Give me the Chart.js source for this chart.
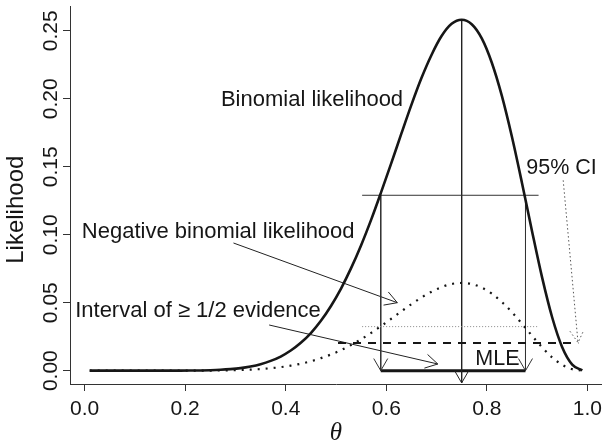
<!DOCTYPE html>
<html><head><meta charset="utf-8">
<script src="https://cdn.jsdelivr.net/npm/chart.js@4.4.0/dist/chart.umd.min.js"></script>
<style>html,body{margin:0;padding:0;background:#fff}canvas{display:block}</style>
</head><body>
<canvas id="c" width="602" height="444"></canvas>
<script>
// ---- data ----
const theta = [0.01,0.03,0.05,0.07,0.09,0.11,0.13,0.15,0.17,0.19,
  0.21,0.23,0.25,0.27,0.29,0.31,0.33,0.35,0.37,0.39,
  0.41,0.43,0.45,0.47,0.49,0.51,0.53,0.55,0.57,0.59,
  0.61,0.63,0.65,0.67,0.69,0.71,0.73,0.75,0.77,0.79,
  0.81,0.83,0.85,0.87,0.89,0.91,0.93,0.95,0.97,0.99];
const binomialLik = [0,0,0,0,0,0,0,0,0,0.00003,
  0.00009,0.00018,0.00035,0.00065,0.00115,0.0019,0.0031,0.0048,0.0072,0.0104,
  0.0148,0.0205,0.0277,0.0367,0.0476,0.0604,0.0754,0.0923,0.1111,0.1315,
  0.1526,0.1743,0.1955,0.2152,0.2322,0.2461,0.2551,0.2581,0.2548,0.2444,
  0.2265,0.2021,0.1720,0.1381,0.1026,0.0686,0.0393,0.0173,0.0045,0.0002];
const negBinomialLik = [0,0,0,0,0,0,0,0,0,0.00001,
  0.00002,0.00005,0.00009,0.00016,0.00029,0.0005,0.0008,0.0012,0.0018,0.0026,
  0.0037,0.0051,0.0069,0.0092,0.0119,0.0151,0.0189,0.0231,0.0278,0.0329,
  0.0382,0.0436,0.0489,0.0538,0.0581,0.0615,0.0638,0.0645,0.0637,0.0611,
  0.0566,0.0505,0.0430,0.0345,0.0257,0.0172,0.0098,0.0043,0.0011,0.00005];
const xTickValues = [0,0.2,0.4,0.6,0.8,1.0];
const xTickLabels = ['0.0','0.2','0.4','0.6','0.8','1.0'];
const yTickValues = [0,0.05,0.10,0.15,0.20,0.25];
const yTickLabels = ['0.00','0.05','0.10','0.15','0.20','0.25'];
const mle = 0.75;
const maxLik = 0.258;
const halfMaxLik = 0.129;
const evidenceInterval = [0.589, 0.877];
const halfLineRange = [0.552, 0.903];
const negHalfLik = 0.0324;
const ciLevel = 0.0203;
const ciLineRange = [0.504, 0.982];
// annotation arrows: [thetaStart, likStart, thetaEnd, likEnd]
const negBinArrow = [0.296, 0.0939, 0.622, 0.050];
const intervalArrow = [0.367, 0.0336, 0.7025, 0.0049];
const ciArrow = [0.952, 0.140, 0.9815, 0.0206];
const mleArrowEnd = -0.009;

// ---- styling / layout ----
const INK = '#161616';
const SANS = "'Liberation Sans', Arial, Helvetica, sans-serif";
const labels = [
  {text:'Binomial likelihood', x:0.271, y:0.1946, size:22},
  {text:'Negative binomial likelihood', x:-0.0056, y:0.0976, size:22},
  {text:'Interval of \u2265 1/2 evidence', x:-0.0189, y:0.0395, size:22},
  {text:'95% CI', x:0.8786, y:0.1446, size:21.5},
  {text:'MLE', x:0.7771, y:0.0042, size:21.5}
];

const pts = (xs, ys) => xs.map((v, i) => ({x: v, y: ys[i]}));
const seg = (a) => [{x:a[0], y:a[1]}, {x:a[2], y:a[3]}];
const line = (data, extra) => Object.assign({
  data, showLine:true, pointRadius:0, borderColor:INK, borderWidth:1,
  tension:0, fill:false, clip:false
}, extra || {});

const datasets = [
  line(pts(theta, binomialLik), {borderWidth:2.6, cubicInterpolationMode:'monotone'}),
  line(pts(theta, negBinomialLik), {borderWidth:2.2, borderDash:[2,6], cubicInterpolationMode:'monotone'}),
  line(seg([halfLineRange[0], halfMaxLik, halfLineRange[1], halfMaxLik]), {borderColor:'#333'}),
  line(seg([halfLineRange[0], negHalfLik, halfLineRange[1], negHalfLik]), {borderColor:'#888', borderDash:[1,2]}),
  line(seg([ciLineRange[0], ciLevel, ciLineRange[1], ciLevel]), {borderWidth:2, borderDash:[8,7]}),
  line(seg([evidenceInterval[0], halfMaxLik, evidenceInterval[0], 0]), {borderColor:'#333', arrowHead:true}),
  line(seg([evidenceInterval[1], halfMaxLik, evidenceInterval[1], 0]), {borderColor:'#333', arrowHead:true}),
  line(seg([mle, maxLik, mle, mleArrowEnd]), {borderColor:'#222', arrowHead:true}),
  line(seg([evidenceInterval[0], 0, evidenceInterval[1], 0]), {borderWidth:3}),
  line(seg(negBinArrow), {borderColor:'#222', arrowHead:true}),
  line(seg(intervalArrow), {borderColor:'#222', arrowHead:true}),
  line(seg(ciArrow), {borderColor:'#555', borderDash:[1.5,2.5], arrowHead:true})
];

const overlay = {
  id:'overlay',
  afterDatasetsDraw(chart) {
    const {ctx} = chart, xs = chart.scales.x, ys = chart.scales.y;
    chart.data.datasets.forEach(ds => {
      if (!ds.arrowHead) return;
      const p0 = ds.data[0], p1 = ds.data[1];
      const x0 = xs.getPixelForValue(p0.x), y0 = ys.getPixelForValue(p0.y);
      const x1 = xs.getPixelForValue(p1.x), y1 = ys.getPixelForValue(p1.y);
      const ang = Math.atan2(y1 - y0, x1 - x0);
      const L = 14, a = Math.PI / 6;
      ctx.save();
      ctx.strokeStyle = ds.borderColor; ctx.lineWidth = ds.borderWidth;
      ctx.setLineDash(ds.borderDash || []);
      ctx.beginPath();
      ctx.moveTo(x1 - L * Math.cos(ang - a), y1 - L * Math.sin(ang - a));
      ctx.lineTo(x1, y1);
      ctx.lineTo(x1 - L * Math.cos(ang + a), y1 - L * Math.sin(ang + a));
      ctx.stroke();
      ctx.restore();
    });
  },
  afterDraw(chart) {
    const {ctx} = chart, xs = chart.scales.x, ys = chart.scales.y;
    ctx.save();
    ctx.fillStyle = INK;
    // x tick labels
    ctx.font = '21px ' + SANS; ctx.textAlign = 'center'; ctx.textBaseline = 'alphabetic';
    xTickValues.forEach((v, i) => ctx.fillText(xTickLabels[i], xs.getPixelForValue(v), 415));
    // y tick labels (rotated, reading upward)
    yTickValues.forEach((v, i) => {
      ctx.save();
      ctx.translate(56.7, ys.getPixelForValue(v));
      ctx.rotate(-Math.PI / 2);
      ctx.fillText(yTickLabels[i], 0, 0);
      ctx.restore();
    });
    // axis titles
    ctx.save();
    ctx.font = '24px ' + SANS;
    ctx.translate(22.7, 209.7); ctx.rotate(-Math.PI / 2);
    ctx.fillText('Likelihood', 0, 0);
    ctx.restore();
    ctx.font = "italic 25px 'Liberation Serif', 'DejaVu Serif', serif";
    ctx.fillText('\u03b8', xs.getPixelForValue(0.5), 440);
    // annotations
    ctx.textAlign = 'left';
    labels.forEach(l => {
      ctx.font = l.size + 'px ' + SANS;
      ctx.fillText(l.text, xs.getPixelForValue(l.x), ys.getPixelForValue(l.y));
    });
    ctx.restore();
  }
};

const axisCommon = {
  type:'linear',
  grid:{display:true, drawOnChartArea:false, drawTicks:true, tickLength:7, color:'#333', lineWidth:1},
  border:{display:true, color:'#333', width:1},
  ticks:{display:false}
};

new Chart(document.getElementById('c'), {
  type:'scatter',
  data:{datasets},
  plugins:[overlay],
  options:{
    responsive:false, animation:false, events:[],
    layout:{padding:{top:6, right:0, left:0, bottom:0}},
    plugins:{legend:{display:false}, tooltip:{enabled:false}},
    scales:{
      x: Object.assign({}, axisCommon, {
        min:-0.0292, max:1.0292,
        afterBuildTicks:s => { s.ticks = xTickValues.map(v => ({value:v})); },
        afterFit:s => { s.height = 60; }
      }),
      y: Object.assign({}, axisCommon, {
        min:-0.0098, max:0.2682,
        afterBuildTicks:s => { s.ticks = yTickValues.map(v => ({value:v})); },
        afterFit:s => { s.width = 70; }
      })
    }
  }
});
</script>
</body></html>
